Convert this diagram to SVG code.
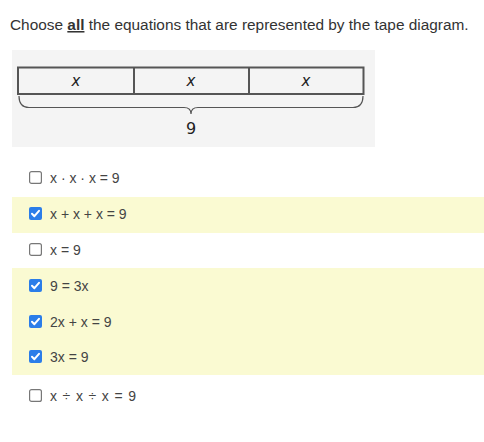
<svg xmlns="http://www.w3.org/2000/svg" width="484" height="442" viewBox="0 0 484 442">
<defs>
<style>
.t{font-family:"Liberation Sans",Arial,sans-serif;fill:#333}
.title{font-size:15.4px}
.opt{font-size:14px;fill:#444}
.tape{fill:none;stroke:#555;stroke-width:2}
.cell{font-family:"DejaVu Sans","Open Sans",sans-serif;font-style:italic;font-size:15px;fill:#222;text-anchor:middle}
.box{fill:#fff;stroke:#777;stroke-width:1.2}
.chk{fill:#2b7de9}
.band{fill:#fafad2}
</style>
<symbol id="cbOff" viewBox="0 0 13 13"><rect x="0.6" y="0.6" width="11.8" height="11.8" rx="2" class="box"/></symbol>
<symbol id="cbOn" viewBox="0 0 13 13"><rect x="0" y="0" width="13" height="13" rx="2" class="chk"/><path d="M3 6.8 L5.4 9.2 L10 3.8" fill="none" stroke="#fff" stroke-width="2" stroke-linecap="round" stroke-linejoin="round"/></symbol>
</defs>
<rect width="484" height="442" fill="#fff"/>
<text class="t title" x="10" y="30">Choose <tspan font-weight="bold" text-decoration="underline">all</tspan> the equations that are represented by the tape diagram.</text>
<g id="tape-diagram">
<rect x="12" y="50" width="363" height="97" fill="#f4f4f4"/>
<rect x="18" y="67.5" width="345.5" height="26.5" fill="#f7f7f7" class="tape"/>
<line x1="134" y1="67.5" x2="134" y2="94" class="tape"/>
<line x1="249" y1="67.5" x2="249" y2="94" class="tape"/>
<text class="cell" x="76" y="86">x</text>
<text class="cell" x="191" y="86">x</text>
<text class="cell" x="306" y="86">x</text>
<path d="M19 96 Q19 107.5 29 107.5 L184 107.5 Q191 107.5 191 114 Q191 107.5 198 107.5 L353 107.5 Q363 107.5 363 96" fill="none" stroke="#555" stroke-width="1.2"/>
<text x="191" y="134" text-anchor="middle" font-family="'DejaVu Sans','Open Sans',sans-serif" font-size="16" fill="#222">9</text>
</g>
<rect class="band" x="12" y="197" width="472" height="36"/>
<rect class="band" x="12" y="268" width="472" height="107"/>
<g id="opt1"><use href="#cbOff" x="29" y="171" width="13" height="13"/><text class="t opt" x="50" y="183">x · x · x = 9</text></g>
<g id="opt2"><use href="#cbOn" x="29" y="207" width="13" height="13"/><text class="t opt" x="50" y="219">x + x + x = 9</text></g>
<g id="opt3"><use href="#cbOff" x="29" y="243" width="13" height="13"/><text class="t opt" x="50" y="255">x = 9</text></g>
<g id="opt4"><use href="#cbOn" x="29" y="279" width="13" height="13"/><text class="t opt" x="50" y="291">9 = 3x</text></g>
<g id="opt5"><use href="#cbOn" x="29" y="315" width="13" height="13"/><text class="t opt" x="50" y="327">2x + x = 9</text></g>
<g id="opt6"><use href="#cbOn" x="29" y="350" width="13" height="13"/><text class="t opt" x="50" y="362">3x = 9</text></g>
<g id="opt7"><use href="#cbOff" x="29" y="389" width="13" height="13"/><text class="t opt" x="50" y="401" textLength="86">x ÷ x ÷ x = 9</text></g>
</svg>
